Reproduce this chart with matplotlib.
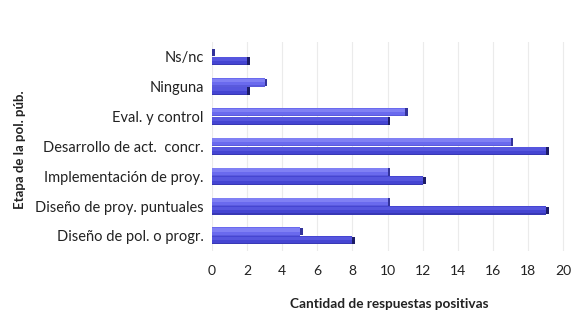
import matplotlib
matplotlib.use("Agg")
import matplotlib.pyplot as plt
import numpy as np

plt.rcParams['font.family'] = ['Lato', 'DejaVu Sans']

categories = ["Diseño de pol. o progr.", "Diseño de proy. puntuales",
              "Implementación de proy.", "Desarrollo de act.  concr.",
              "Eval. y control", "Ninguna", "Ns/nc"]
series_light = [5, 10, 10, 17, 11, 3, 0]
series_dark = [8, 19, 12, 19, 10, 2, 2]
xticks = [0, 2, 4, 6, 8, 10, 12, 14, 16, 18, 20]

fig = plt.figure(figsize=(5.76, 3.25), dpi=100)
ax = fig.add_axes([0.368, 0.228, 0.616, 0.643])

y = np.arange(len(categories))
h = 0.28
off = 0.145
depth = 0.16  # visible side face of the 3D bar


def bar3d(vals, ypos, base, top, bottom, cap):
    vals = np.asarray(vals, dtype=float)
    ax.barh(ypos, vals, height=h, color=base, edgecolor='none', zorder=3)
    # lighter upper band and darker lower edge give the rounded look
    ax.barh(ypos + h * 0.22, vals, height=h * 0.45, color=top,
            edgecolor='none', zorder=3)
    ax.barh(ypos - h * 0.43, vals, height=h * 0.14, color=bottom,
            edgecolor='none', zorder=3)
    # dark end face
    ax.barh(ypos, np.full_like(vals, depth), left=vals, height=h * 0.9,
            color=cap, edgecolor='none', zorder=4)


bar3d(series_light, y + off, '#6a6aee', '#8080f4', '#5a5adc', '#33339a')
bar3d(series_dark, y - off, '#4545d2', '#5656de', '#3838b4', '#1c1c66')

ax.set_xlim(0, 20.2)
ax.set_ylim(-0.5, 6.5)
ax.set_xticks(xticks)
ax.set_xticklabels([str(t) for t in xticks], fontsize=10, color='#222222')
ax.set_yticks(y)
ax.set_yticklabels(categories, fontsize=10.5, color='#222222')
ax.tick_params(axis='both', length=0)
ax.tick_params(axis='x', pad=10)
ax.tick_params(axis='y', pad=6)
ax.grid(axis='x', color='#ebebeb', linewidth=0.8, zorder=0)
for s in ax.spines.values():
    s.set_visible(False)

ax.set_xlabel("Cantidad de respuestas positivas", fontsize=9.8,
              fontweight='bold', color='#222222', labelpad=15)
fig.text(0.034, 0.54, "Etapa de la pol. púb.", rotation=90, fontsize=9.5,
         fontweight='bold', color='#222222', ha='center', va='center')

fig.savefig("out.png", dpi=100)
